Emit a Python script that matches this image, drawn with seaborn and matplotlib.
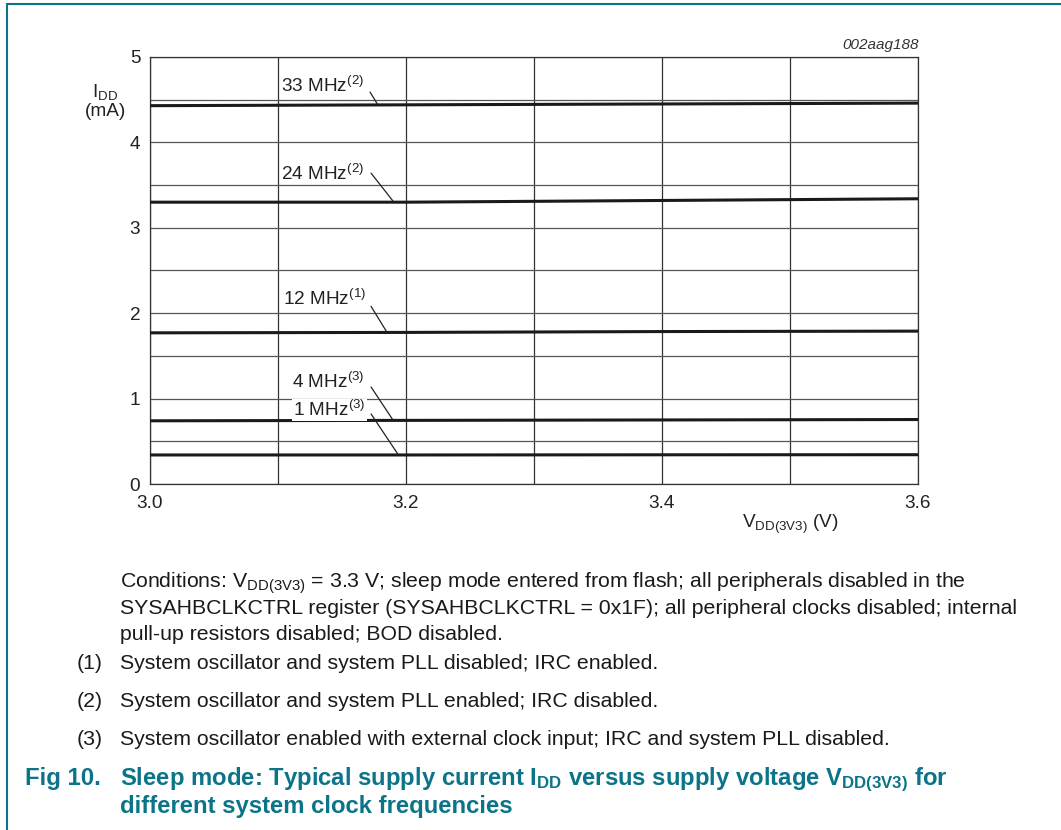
import matplotlib
matplotlib.use("Agg")
import matplotlib.pyplot as plt
from matplotlib.lines import Line2D
import seaborn as sns
import pandas as pd
import numpy as np

# ---- data ----
voltage = [3.0, 3.2, 3.4, 3.6]
i_33mhz = [4.43, 4.44, 4.45, 4.46]
i_24mhz = [3.30, 3.30, 3.32, 3.34]
i_12mhz = [1.77, 1.775, 1.785, 1.79]
i_4mhz = [0.74, 0.745, 0.75, 0.755]
i_1mhz = [0.34, 0.34, 0.342, 0.343]
series_names = ["33 MHz", "24 MHz", "12 MHz", "4 MHz", "1 MHz"]
series_notes = ["(2)", "(2)", "(1)", "(3)", "(3)"]
x_ticks = [3.0, 3.2, 3.4, 3.6]
x_tick_labels = ["3.0", "3.2", "3.4", "3.6"]
y_ticks = [0, 1, 2, 3, 4, 5]

sns.set_theme(style="white")
plt.rcParams["font.family"] = ["Liberation Sans", "DejaVu Sans"]
plt.rcParams["mathtext.fontset"] = "custom"
plt.rcParams["mathtext.rm"] = "Liberation Sans"
plt.rcParams["mathtext.it"] = "Liberation Sans:italic"
plt.rcParams["mathtext.bf"] = "Liberation Sans:bold"

all_series = [i_33mhz, i_24mhz, i_12mhz, i_4mhz, i_1mhz]
rows = []
for name, vals in zip(series_names, all_series):
    for v, c in zip(voltage, vals):
        rows.append({"V": v, "I": c, "f": name})
df = pd.DataFrame(rows)

fig = plt.figure(figsize=(10.61, 8.30), dpi=100)
W, H = 1061, 830
ax = fig.add_axes([150 / W, 1 - 484 / H, (918 - 150) / W, (484 - 57) / H])

# grid
for gx in np.arange(3.0, 3.61, 0.1):
    ax.axvline(gx, color="#333333", lw=0.9, zorder=1)
for gy in np.arange(0, 5.01, 0.5):
    ax.axhline(gy, color="#555555", lw=0.9, zorder=1)

sns.lineplot(data=df, x="V", y="I", hue="f", palette=["#1a1a1a"] * 5,
             legend=False, lw=2.2, ax=ax, zorder=3)

CH = 13.7  # chart text size
ax.set_xlim(3.0, 3.6)
ax.set_ylim(0, 5)
ax.set_xticks(x_ticks)
ax.set_xticklabels(x_tick_labels)
ax.set_yticks(y_ticks)
ax.tick_params(axis="both", length=0, labelsize=CH, colors="#222222", pad=7)
ax.tick_params(axis="x", pad=8)
ax.set_xlabel("")
ax.set_ylabel("")
for s in ax.spines.values():
    s.set_color("#333333")
    s.set_linewidth(0.9)

# axis labels
fig.text(105 / W, 1 - 92 / H, r"I$_{\rm DD}$", fontsize=CH, ha="center",
         va="center", color="#222222")
fig.text(106 / W, 1 - 112 / H, "(mA)", fontsize=CH, ha="center",
         va="center", color="#222222")
fig.text(790 / W, 1 - 524 / H, r"V$_{\rm DD(3V3)}$ (V)", fontsize=CH,
         ha="center", va="center", color="#222222")
fig.text(919 / W, 1 - 45 / H, "002aag188", fontsize=11, ha="right",
         va="center", style="italic", color="#333333")

# series annotations: (text x, text baseline y, leader start, leader end)
ann = [
    (3.102, 4.59, (3.1719, 4.59), (3.178, 4.44)),
    (3.102, 3.56, (3.1727, 3.64), (3.190, 3.31)),
    (3.104, 2.10, (3.1727, 2.08), (3.185, 1.78)),
    (3.111, 1.125, (3.1727, 1.136), (3.190, 0.745)),
    (3.112, 0.796, (3.1727, 0.82), (3.194, 0.342)),
]
for name, note, (tx, ty, p0, p1) in zip(series_names, series_notes, ann):
    bbox = None
    if name == "1 MHz":
        bbox = dict(boxstyle="square,pad=0.05", fc="white", ec="none")
    ax.text(tx, ty, name + r"$^{" + note + r"}$", fontsize=CH,
            ha="left", va="baseline", color="#222222", zorder=4, bbox=bbox)
    ax.plot([p0[0], p1[0]], [p0[1], p1[1]], color="#222222", lw=0.9, zorder=4)

# bottom caption text
txt_kw = dict(fontsize=15.35, color="#1a1a1a", ha="left", va="baseline")
fig.text(120 / W, 1 - 588 / H,
         r"Conditions: V$_{\rm DD(3V3)}$ = 3.3 V; sleep mode entered from flash; all peripherals disabled in the",
         **txt_kw)
fig.text(120 / W, 1 - 614 / H,
         "SYSAHBCLKCTRL register (SYSAHBCLKCTRL = 0x1F); all peripheral clocks disabled; internal",
         **txt_kw)
fig.text(120 / W, 1 - 640 / H, "pull-up resistors disabled; BOD disabled.", **txt_kw)
notes = [
    ("(1)", "System oscillator and system PLL disabled; IRC enabled.", 669),
    ("(2)", "System oscillator and system PLL enabled; IRC disabled.", 707),
    ("(3)", "System oscillator enabled with external clock input; IRC and system PLL disabled.", 745),
]
for lab, t, yb in notes:
    fig.text(77 / W, 1 - yb / H, lab, **txt_kw)
    fig.text(120 / W, 1 - yb / H, t, **txt_kw)

teal = "#0b7489"
ttl_kw = dict(fontsize=17.2, color=teal, ha="left", va="baseline", fontweight="bold")
fig.text(25 / W, 1 - 785 / H, "Fig 10.", **ttl_kw)
fig.text(120 / W, 1 - 785 / H,
         r"Sleep mode: Typical supply current I$_{\mathbf{DD}}$ versus supply voltage V$_{\mathbf{DD(3V3)}}$ for",
         **ttl_kw)
fig.text(120 / W, 1 - 813 / H, "different system clock frequencies", **ttl_kw)

# frame lines
fig.add_artist(Line2D([7 / W, 1], [1 - 4 / H, 1 - 4 / H], color=teal, lw=1.5,
                      transform=fig.transFigure))
fig.add_artist(Line2D([7 / W, 7 / W], [0, 1 - 4 / H], color=teal, lw=1.5,
                      transform=fig.transFigure))

fig.savefig("out.png", dpi=100, facecolor="white")
